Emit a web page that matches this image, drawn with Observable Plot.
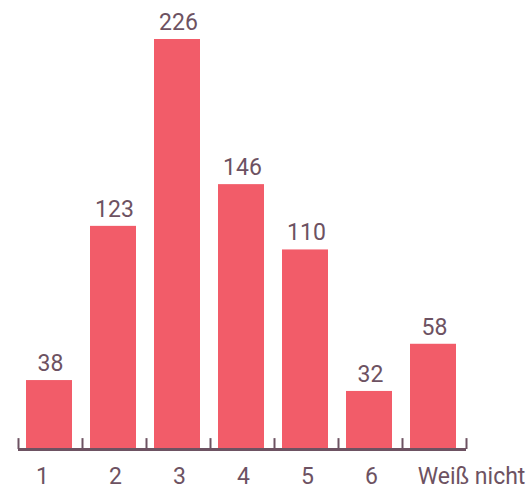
<!DOCTYPE html>
<html>
<head>
<meta charset="utf-8">
<script src="https://cdn.jsdelivr.net/npm/d3@7"></script>
<script src="https://cdn.jsdelivr.net/npm/@observablehq/plot@0.6"></script>
<style>
  body { margin: 0; background: #fff; }
  svg { display: block; }
</style>
</head>
<body>
<div id="chart"></div>
<script>
const categories = ["1", "2", "3", "4", "5", "6", "Weiß nicht"];
const counts = [38, 123, 226, 146, 110, 32, 58];

const data = categories.map((c, i) => ({category: c, count: counts[i]}));
const barColor = "#f25c69";
const inkColor = "#6d5262";
const step = (466 - 18) / categories.length;
const last = categories[categories.length - 1];

const labelStyle = {fill: inkColor, fontSize: 23, fontWeight: 400, lineAnchor: "middle"};

const chart = Plot.plot({
  width: 528,
  height: 491,
  marginTop: 39,
  marginBottom: 42,
  marginLeft: 18,
  marginRight: 62,
  style: {fontFamily: "Roboto", background: "#fff"},
  x: {domain: categories, padding: 0, axis: null},
  y: {domain: [0, 226], axis: null},
  marks: [
    Plot.barY(data, {x: "category", y: "count", fill: barColor, insetLeft: 8, insetRight: 10}),
    Plot.ruleY([0], {stroke: inkColor, strokeWidth: 3}),
    Plot.ruleX(categories, {x: d => d, dx: -step / 2, y1: 0, y2: 6, stroke: inkColor, strokeWidth: 2}),
    Plot.ruleX([last], {x: d => d, dx: step / 2, y1: 0, y2: 6, stroke: inkColor, strokeWidth: 2}),
    Plot.text(data, {x: "category", y: "count", text: d => String(d.count), dy: -17, ...labelStyle}),
    Plot.text(data.filter(d => d.category !== last && d.category !== "1"), {x: "category", y: 0, text: "category", dy: 27.5, dx: 1, ...labelStyle}),
    Plot.text(data.filter(d => d.category === "1"), {x: "category", y: 0, text: "category", dy: 27.5, dx: -8, ...labelStyle}),
    Plot.text(data.filter(d => d.category === last), {x: "category", y: 0, text: "category", dy: 27.5, dx: 37, ...labelStyle})
  ]
});
document.getElementById("chart").appendChild(chart);
</script>
</body>
</html>
